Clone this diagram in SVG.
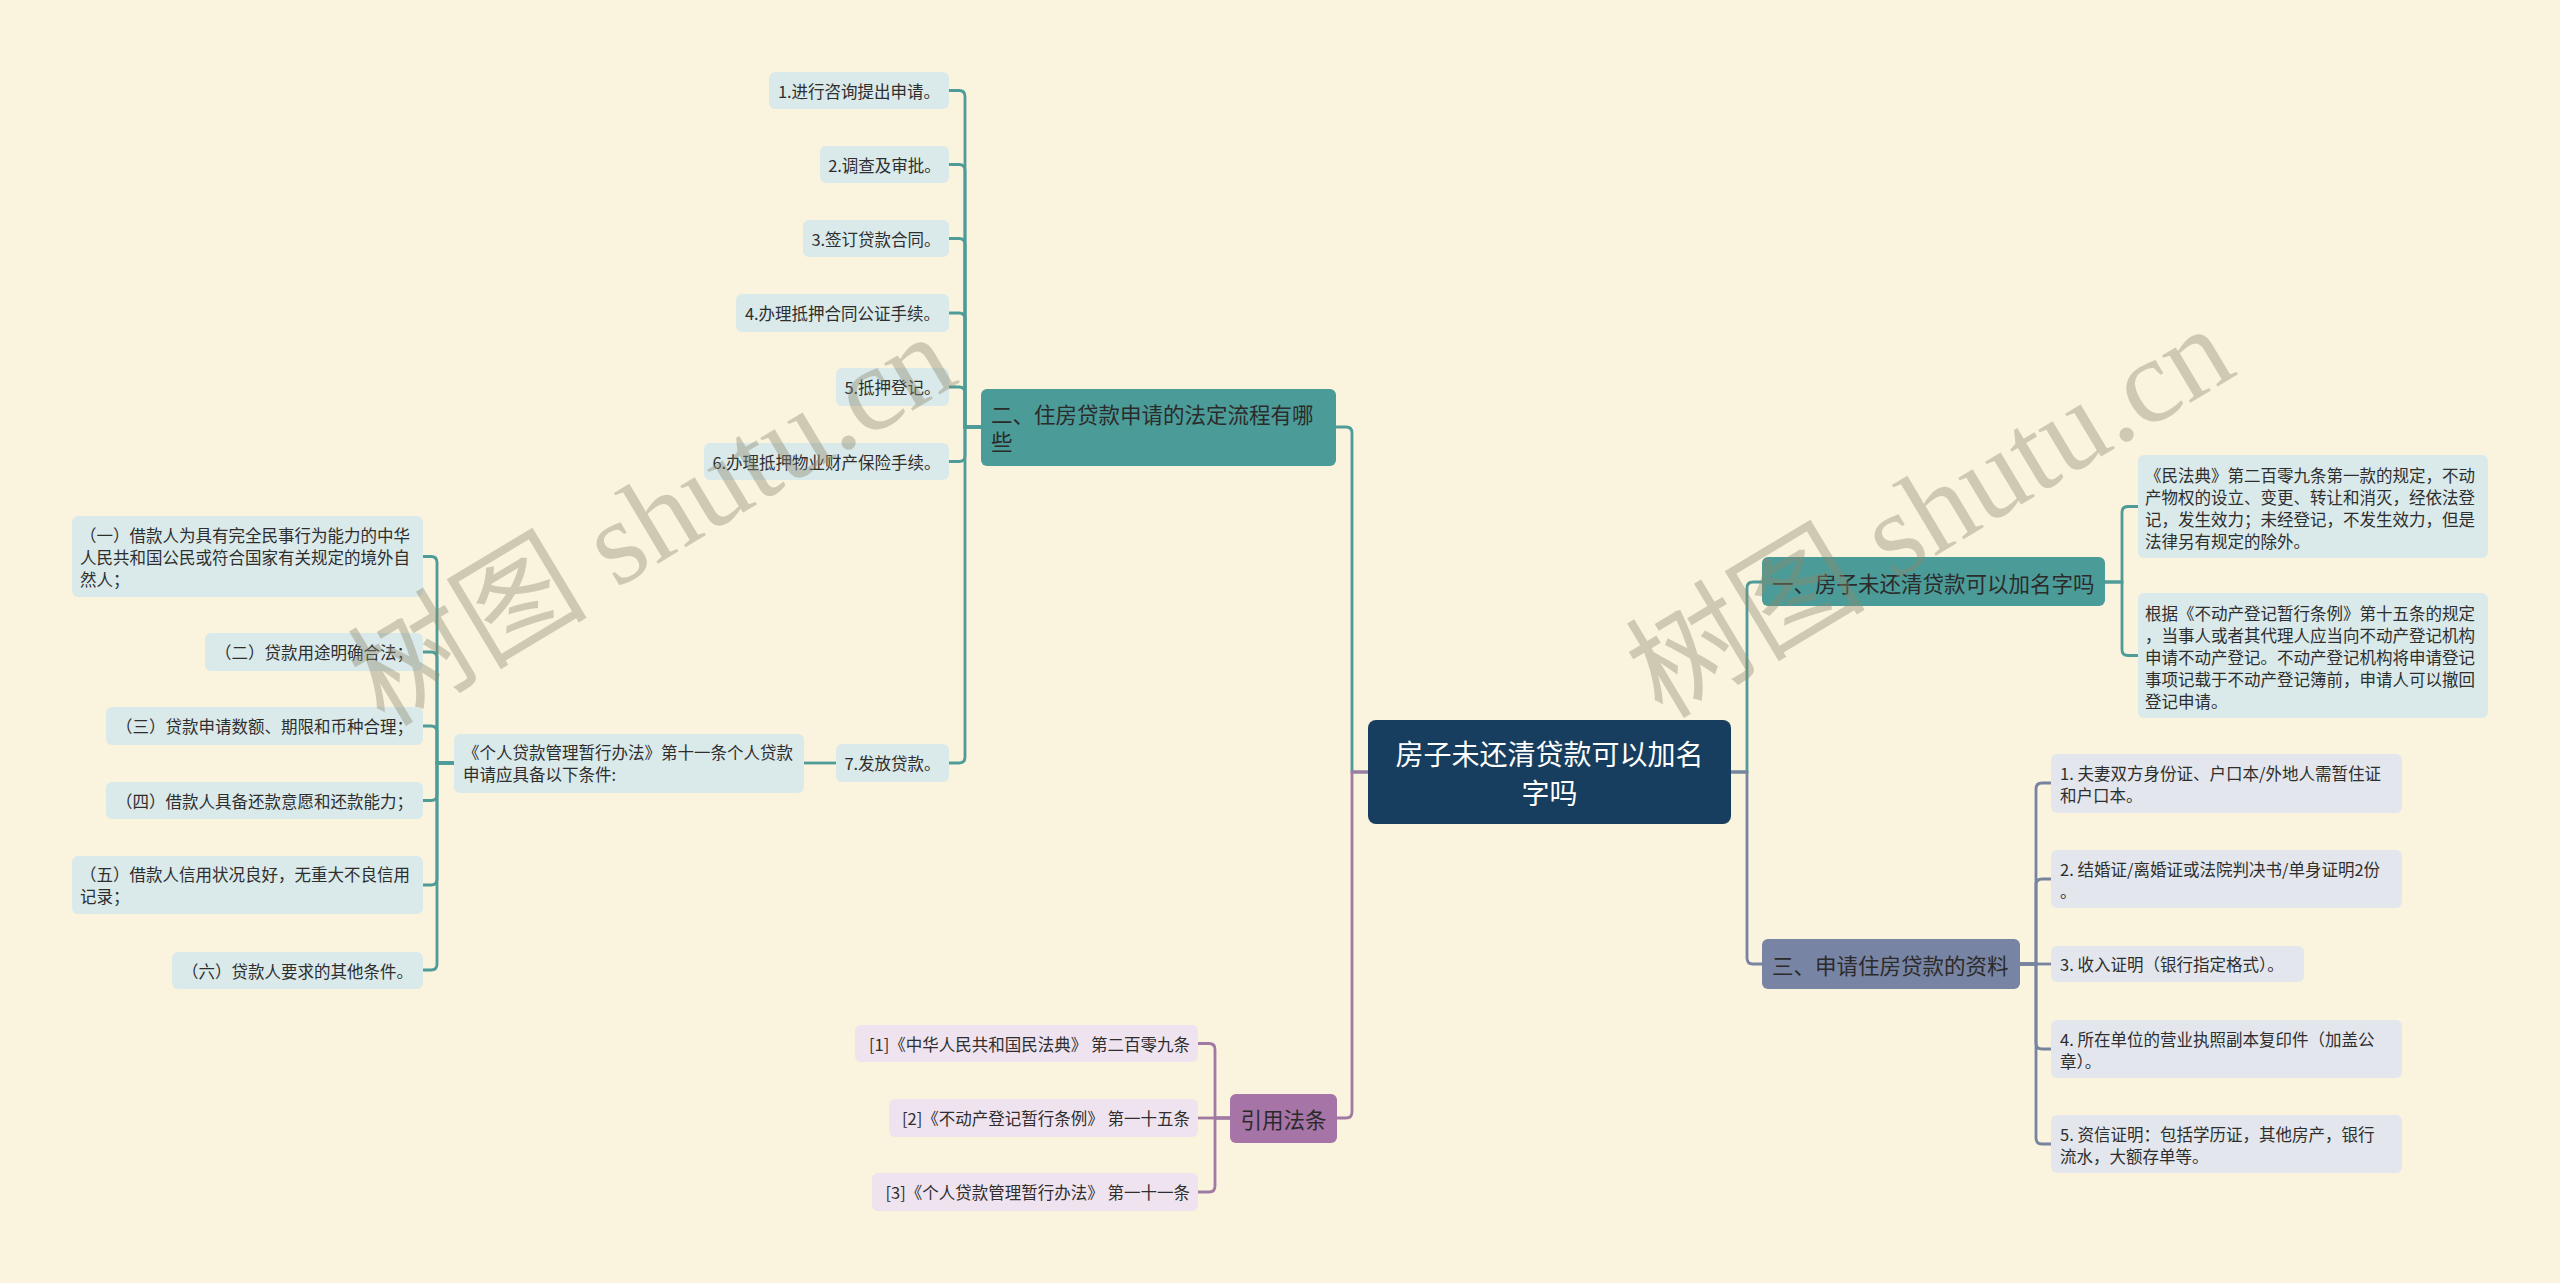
<svg xmlns="http://www.w3.org/2000/svg" width="2560" height="1283" viewBox="0 0 2560 1283">
<style>
text { font-family: "Noto Sans CJK SC", "Noto Sans", sans-serif; dominant-baseline: central; }
.t { font-size: 16.5px; fill: #2e2e2e; }
.b { font-size: 21.5px; fill: #2b2b2b; }
.c { font-size: 28px; fill: #ffffff; }
.m { text-anchor: middle; }
.e { text-anchor: end; }
.kt { fill: #DAE9EA; }
.ks { fill: #E3E6EC; }
.kp { fill: #EEE3EE; }
.bt { fill: #4B9B98; }
.bs { fill: #7884A3; }
.bp { fill: #A674A6; }
.lt { fill: none; stroke: #4E9B98; stroke-width: 2.8; }
.ls { fill: none; stroke: #77839F; stroke-width: 2.8; }
.lp { fill: none; stroke: #A07AA3; stroke-width: 2.8; }
.wm { font-family: "Liberation Serif", "Noto Sans CJK SC", serif; font-size: 120px; fill: #8c8a70; opacity: 0.4; text-anchor: middle; }
</style>
<rect x="0" y="0" width="2560" height="1283" fill="#FAF4DF"/>

<g id="connectors">
  <path class="lt" d="M1368 772 H1352 V433 Q1352 427 1346 427 H1336"/>
  <path class="lp" d="M1368 772 H1352 V1112 Q1352 1118 1346 1118 H1337"/>
  <path class="lt" d="M1731 772 H1747 V588 Q1747 582 1753 582 H1762"/>
  <path class="ls" d="M1731 772 H1747 V958 Q1747 964 1753 964 H1762"/>
  <path class="lt" d="M981 427 H965 V96.5 Q965 90.5 959 90.5 H949"/>
  <path class="lt" d="M981 427 H965 V170.5 Q965 164.5 959 164.5 H949"/>
  <path class="lt" d="M981 427 H965 V244.5 Q965 238.5 959 238.5 H949"/>
  <path class="lt" d="M981 427 H965 V319 Q965 313 959 313 H949"/>
  <path class="lt" d="M981 427 H965 V393 Q965 387 959 387 H949"/>
  <path class="lt" d="M981 427 H965 V455.5 Q965 461.5 959 461.5 H949"/>
  <path class="lt" d="M981 427 H965 V757 Q965 763 959 763 H949"/>
  <path class="lt" d="M836 763 H804"/>
  <path class="lt" d="M454 763 H437 V562.5 Q437 556.5 431 556.5 H423"/>
  <path class="lt" d="M454 763 H437 V658 Q437 652 431 652 H423"/>
  <path class="lt" d="M454 763 H437 V732 Q437 726 431 726 H423"/>
  <path class="lt" d="M454 763 H437 V794.5 Q437 800.5 431 800.5 H423"/>
  <path class="lt" d="M454 763 H437 V879 Q437 885 431 885 H423"/>
  <path class="lt" d="M454 763 H437 V964 Q437 970 431 970 H423"/>
  <path class="lt" d="M2105 582 H2122 V512.5 Q2122 506.5 2128 506.5 H2138"/>
  <path class="lt" d="M2105 582 H2122 V649.5 Q2122 655.5 2128 655.5 H2138"/>
  <path class="ls" d="M2020 964 H2036 V789 Q2036 783 2042 783 H2051"/>
  <path class="ls" d="M2020 964 H2036 V885 Q2036 879 2042 879 H2051"/>
  <path class="ls" d="M2020 964 H2051"/>
  <path class="ls" d="M2020 964 H2036 V1043 Q2036 1049 2042 1049 H2051"/>
  <path class="ls" d="M2020 964 H2036 V1138 Q2036 1144 2042 1144 H2051"/>
  <path class="lp" d="M1230 1118 H1215 V1049.5 Q1215 1043.5 1209 1043.5 H1198"/>
  <path class="lp" d="M1230 1118 H1198"/>
  <path class="lp" d="M1230 1118 H1215 V1186 Q1215 1192 1209 1192 H1198"/>
</g>

<g id="center">
  <rect x="1368" y="720" width="363" height="104" rx="8" fill="#173E5E"/>
  <text class="c m" x="1549.5" y="753">房子未还清贷款可以加名</text>
  <text class="c m" x="1549.5" y="792">字吗</text>
</g>

<g id="branch2">
  <rect class="bt" x="981" y="389" width="355" height="77" rx="6"/>
  <text class="b" x="991" y="413">二、住房贷款申请的法定流程有哪</text>
  <text class="b" x="991" y="440">些</text>
</g>
<g id="n1"><rect class="kt" x="769" y="72" width="180" height="37" rx="6"/><text class="t m" x="859" y="90.5">1.进行咨询提出申请。</text></g>
<g id="n2"><rect class="kt" x="820" y="146" width="129" height="37" rx="6"/><text class="t m" x="884.5" y="164.5">2.调查及审批。</text></g>
<g id="n3"><rect class="kt" x="803" y="220" width="146" height="37" rx="6"/><text class="t m" x="876" y="238.5">3.签订贷款合同。</text></g>
<g id="n4"><rect class="kt" x="736" y="294" width="213" height="38" rx="6"/><text class="t m" x="842.5" y="313">4.办理抵押合同公证手续。</text></g>
<g id="n5"><rect class="kt" x="836" y="368" width="113" height="38" rx="6"/><text class="t m" x="892.5" y="387">5.抵押登记。</text></g>
<g id="n6"><rect class="kt" x="704" y="443" width="245" height="37" rx="6"/><text class="t m" x="826.5" y="461.5">6.办理抵押物业财产保险手续。</text></g>
<g id="n7"><rect class="kt" x="836" y="744" width="113" height="38" rx="6"/><text class="t m" x="892.5" y="763">7.发放贷款。</text></g>

<g id="law">
  <rect class="kt" x="454" y="734" width="350" height="59" rx="6"/>
  <text class="t" x="463" y="752">《个人贷款管理暂行办法》第十一条个人贷款</text>
  <text class="t" x="463" y="774">申请应具备以下条件:</text>
</g>
<g id="cond1">
  <rect class="kt" x="72" y="516" width="351" height="81" rx="6"/>
  <text class="t" x="80" y="534.5">（一）借款人为具有完全民事行为能力的中华</text>
  <text class="t" x="80" y="556.5">人民共和国公民或符合国家有关规定的境外自</text>
  <text class="t" x="80" y="578.5">然人；</text>
</g>
<g id="cond2"><rect class="kt" x="205" y="633" width="218" height="38" rx="6"/><text class="t m" x="314" y="652">（二）贷款用途明确合法；</text></g>
<g id="cond3"><rect class="kt" x="106" y="707" width="317" height="38" rx="6"/><text class="t m" x="264.5" y="726">（三）贷款申请数额、期限和币种合理；</text></g>
<g id="cond4"><rect class="kt" x="106" y="782" width="317" height="37" rx="6"/><text class="t m" x="264.5" y="800.5">（四）借款人具备还款意愿和还款能力；</text></g>
<g id="cond5">
  <rect class="kt" x="72" y="856" width="351" height="58" rx="6"/>
  <text class="t" x="80" y="874">（五）借款人信用状况良好，无重大不良信用</text>
  <text class="t" x="80" y="896">记录；</text>
</g>
<g id="cond6"><rect class="kt" x="172" y="952" width="251" height="37" rx="6"/><text class="t m" x="297.5" y="970.5">（六）贷款人要求的其他条件。</text></g>

<g id="cite">
  <rect class="bp" x="1230" y="1094" width="107" height="49" rx="6"/>
  <text class="b m" x="1283.5" y="1118.5">引用法条</text>
</g>
<g id="cite1"><rect class="kp" x="855" y="1025" width="343" height="37" rx="6"/><text class="t e" x="1190" y="1043.5">[1]《中华人民共和国民法典》 第二百零九条</text></g>
<g id="cite2"><rect class="kp" x="889" y="1099" width="309" height="38" rx="6"/><text class="t e" x="1190" y="1118">[2]《不动产登记暂行条例》 第一十五条</text></g>
<g id="cite3"><rect class="kp" x="872" y="1173" width="326" height="38" rx="6"/><text class="t e" x="1190" y="1192">[3]《个人贷款管理暂行办法》 第一十一条</text></g>

<g id="branch1">
  <rect class="bt" x="1762" y="557" width="343" height="49" rx="6"/>
  <text class="b" x="1772" y="582">一、房子未还清贷款可以加名字吗</text>
</g>
<g id="r1a">
  <rect class="kt" x="2138" y="455" width="350" height="103" rx="6"/>
  <text class="t" x="2145" y="475">《民法典》第二百零九条第一款的规定，不动</text>
  <text class="t" x="2145" y="497">产物权的设立、变更、转让和消灭，经依法登</text>
  <text class="t" x="2145" y="519">记，发生效力；未经登记，不发生效力，但是</text>
  <text class="t" x="2145" y="541">法律另有规定的除外。</text>
</g>
<g id="r1b">
  <rect class="kt" x="2138" y="593" width="350" height="125" rx="6"/>
  <text class="t" x="2145" y="613">根据《不动产登记暂行条例》第十五条的规定</text>
  <text class="t" x="2145" y="635">，当事人或者其代理人应当向不动产登记机构</text>
  <text class="t" x="2145" y="657">申请不动产登记。不动产登记机构将申请登记</text>
  <text class="t" x="2145" y="679">事项记载于不动产登记簿前，申请人可以撤回</text>
  <text class="t" x="2145" y="701">登记申请。</text>
</g>

<g id="branch3">
  <rect class="bs" x="1762" y="939" width="258" height="50" rx="6"/>
  <text class="b" x="1772" y="964">三、申请住房贷款的资料</text>
</g>
<g id="r3a">
  <rect class="ks" x="2051" y="754" width="351" height="59" rx="6"/>
  <text class="t" x="2060" y="773">1. 夫妻双方身份证、户口本/外地人需暂住证</text>
  <text class="t" x="2060" y="795">和户口本。</text>
</g>
<g id="r3b">
  <rect class="ks" x="2051" y="850" width="351" height="58" rx="6"/>
  <text class="t" x="2060" y="869">2. 结婚证/离婚证或法院判决书/单身证明2份</text>
  <text class="t" x="2060" y="891">。</text>
</g>
<g id="r3c">
  <rect class="ks" x="2051" y="946" width="253" height="36" rx="6"/>
  <text class="t" x="2060" y="964">3. 收入证明（银行指定格式）。</text>
</g>
<g id="r3d">
  <rect class="ks" x="2051" y="1020" width="351" height="58" rx="6"/>
  <text class="t" x="2060" y="1039">4. 所在单位的营业执照副本复印件（加盖公</text>
  <text class="t" x="2060" y="1061">章）。</text>
</g>
<g id="r3e">
  <rect class="ks" x="2051" y="1115" width="351" height="58" rx="6"/>
  <text class="t" x="2060" y="1134">5. 资信证明：包括学历证，其他房产，银行</text>
  <text class="t" x="2060" y="1156">流水，大额存单等。</text>
</g>

<g id="watermarks">
  <text class="wm" transform="translate(652,520) rotate(-31)">树图 shutu.cn</text>
  <text class="wm" transform="translate(1930,512) rotate(-31)">树图 shutu.cn</text>
</g>
</svg>
